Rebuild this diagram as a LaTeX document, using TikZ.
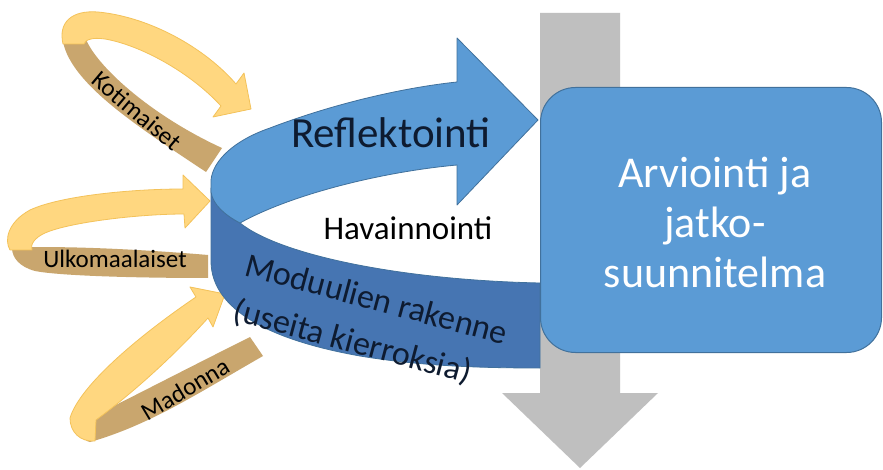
\documentclass[tikz,border=0pt]{standalone}
\usepackage{fontspec}
\setmainfont{Carlito}
\definecolor{bluelight}{HTML}{5B9BD5}
\definecolor{bluedark}{HTML}{4675B2}
\definecolor{blueedge}{HTML}{41719C}
\definecolor{yel}{HTML}{FFD780}
\definecolor{yeledge}{HTML}{F3C25A}
\definecolor{tanband}{HTML}{C9A66E}
\definecolor{grayarrow}{HTML}{BFBFBF}
\definecolor{navy}{HTML}{0E1B30}
\begin{document}
\begin{tikzpicture}[x=1pt,y=-1pt,
  front/.style={fill=yel,draw=yeledge,line width=0.8pt,line join=round},
  back/.style={fill=tanband},
  ribbon/.style={draw=blueedge,line width=0.8pt,line join=round},
  smalltext/.style={font=\fontsize{25}{30}\selectfont,text=black,inner sep=0pt},
  bandtext/.style={font=\fontsize{34}{40}\selectfont,text=navy,inner sep=0pt}]
\useasboundingbox (0,0) rectangle (883,470);
\fill[white] (0,0) rectangle (883,470);

% gray downward arrow
\fill[grayarrow] (540,13) -- (620,13) -- (620,393) -- (658,393) -- (580,468)
  -- (502,393) -- (540,393) -- cycle;

% Kotimaiset arrow
\fill[back] (63,42) .. controls (70,38) and (78,36) .. (85,37)
  .. controls (95,65) and (150,115) .. (222,148) -- (206,172)
  .. controls (140,128) and (72,85) .. (63,42) -- cycle;
\path[front] (63,44) .. controls (58,22) and (72,10) .. (98,12)
  .. controls (150,17) and (205,48) .. (236,84) -- (244,73) -- (251,109)
  -- (213,117) -- (221,106) .. controls (190,72) and (140,45) .. (105,39)
  .. controls (92,37) and (85,40) .. (84,44) -- cycle;
\node[smalltext,rotate=-40] (koti) at (137,111) {Kotimaiset};

% Ulkomaalaiset arrow
\fill[back] (12,248) .. controls (60,245) and (150,250) .. (208,255)
  -- (208,278) .. controls (140,278) and (60,276) .. (35,271)
  .. controls (20,267) and (12,258) .. (12,248) -- cycle;
\path[front] (10,250) .. controls (4,240) and (8,222) .. (30,210)
  .. controls (60,196) and (130,189) .. (183,189) -- (183,175) -- (210,201)
  -- (185,228) -- (184,214) .. controls (140,214) and (70,222) .. (45,233)
  .. controls (34,238) and (30,245) .. (32,250) -- cycle;
\node[smalltext,anchor=base] (ulko) at (115,268) {Ulkomaalaiset};

% Madonna arrow
\fill[back] (86,420) .. controls (130,398) and (200,362) .. (250,337)
  -- (263,356) .. controls (200,392) and (150,425) .. (90,442)
  .. controls (82,441) and (80,430) .. (86,420) -- cycle;
\path[front] (95,441) .. controls (80,442) and (70,432) .. (70,418)
  .. controls (80,385) and (140,335) .. (196,297) -- (190,287) -- (225,294)
  -- (213,327) -- (208,318) .. controls (170,360) and (130,395) .. (96,420)
  -- cycle;
\node[smalltext,rotate=31] (mad) at (185,389) {Madonna};

% blue ribbon: front (dark) face
\path[ribbon,fill=bluedark] (211,188) -- (211,262)
  .. controls (212,310) and (270,340) .. (360,356)
  .. controls (420,366) and (480,368) .. (540,368) -- (540,283)
  .. controls (400,280) and (280,255) .. (240,223)
  .. controls (225,215) and (213,205) .. (211,188) -- cycle;
% blue ribbon: top (light) face with arrow head
\path[ribbon,fill=bluelight] (211,192) -- (211,180)
  .. controls (213,160) and (235,140) .. (270,128)
  .. controls (330,105) and (400,88) .. (457,82) -- (457,38) -- (538,120)
  -- (457,205) -- (457,165) .. controls (380,172) and (290,195) .. (240,223)
  .. controls (225,215) and (213,205) .. (211,192) -- cycle;

\node[font=\fontsize{43}{50}\selectfont,text=navy,anchor=base,inner sep=0pt] (refl) at (391,148) {Reflektointi};
\node[font=\fontsize{33}{40}\selectfont,text=black,anchor=base,inner sep=0pt] (hav) at (408,240) {Havainnointi};
\node[bandtext,rotate=-15,anchor=base west] (mod1) at (243,275) {Moduulien rakenne};
\node[bandtext,rotate=-15,anchor=base west] (mod2) at (231,320) {(useita kierroksia)};

% evaluation box
\node[draw=blueedge,line width=1pt,fill=bluelight,rounded corners=35pt,
  minimum width=341pt,minimum height=265pt,inner sep=0pt] (plan) at (711,220) {};
\node[font=\fontsize{44}{50}\selectfont,text=white,align=center,inner sep=0pt] (plantext) at (715,222)
  {Arviointi ja\\jatko-\\suunnitelma};
\end{tikzpicture}
\end{document}
